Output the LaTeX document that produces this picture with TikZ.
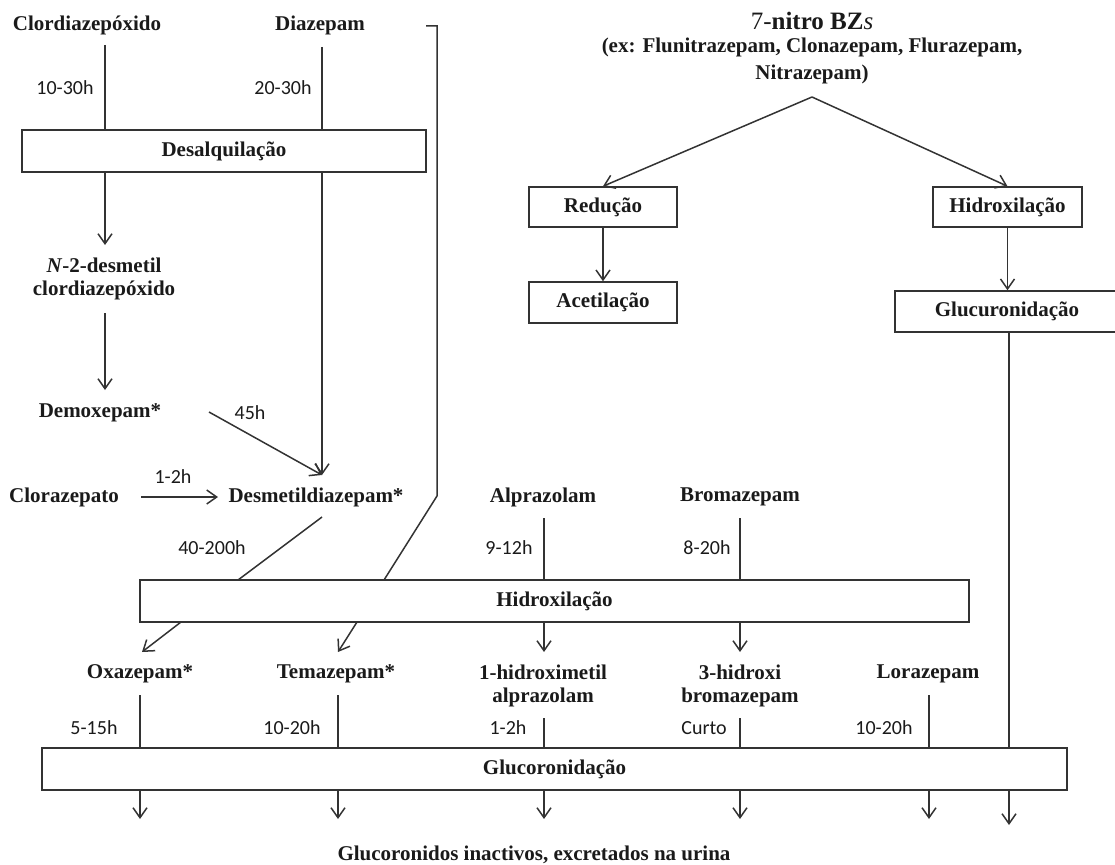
\documentclass[tikz,border=0pt]{standalone}
\usepackage{fontspec}
\setmainfont{Liberation Serif}
\newfontfamily\labfont{Carlito}
\usetikzlibrary{arrows.meta}
\definecolor{linec}{HTML}{333333}
\definecolor{txtc}{HTML}{1A1A1A}
\begin{document}
\begin{tikzpicture}[x=1pt,y=-1pt,
  every node/.style={inner sep=0pt, text=txtc, font=\fontsize{21}{23}\selectfont\bfseries},
  lbl/.style={font=\fontsize{20}{23}\selectfont\labfont},
  ln/.style={draw=linec, line width=1.5pt},
  arr/.style={ln, -{Straight Barb[length=10pt,width=14pt]}},
  box/.style={draw=linec, line width=1.5pt, fill=white}]
\useasboundingbox (0,0) rectangle (1115,864);

% boxes
\node[box, minimum width=404pt, minimum height=42pt] (desal) at (224,151) {Desalquilação};
\node[box, minimum width=148pt, minimum height=40pt] (red) at (603,207) {Redução};
\node[box, minimum width=148pt, minimum height=41pt] (acet) at (603,302.5) {Acetilação};
\node[box, minimum width=149pt, minimum height=40pt] (hidA) at (1007.5,207) {Hidroxilação};
\node[box, minimum width=230pt, minimum height=41pt, anchor=west] (glucA) at (894,311.5) {};
\node (glucAt) at (1007,311.5) {Glucuronidação};
\node[box, minimum width=829pt, minimum height=42pt] (hidB) at (554.5,601) {Hidroxilação};
\node[box, minimum width=1025pt, minimum height=42pt] (glucB) at (554.5,769) {Glucoronidação};

% compound names
\node (clor) at (87,25) {Clordiazepóxido};
\node (diaz) at (320,25) {Diazepam};
\node[font=\fontsize{25}{28}\selectfont] (nbz) at (812,21) {7-\textbf{nitro BZ}\textit{s}};
\node (ex) at (812,47) {(ex: Flunitrazepam, Clonazepam, Flurazepam,};
\node (nitra) at (812,74) {Nitrazepam)};
\node[align=center] (ndes) at (104,278.5) {\textit{N}-2-desmetil\\clordiazepóxido};
\node (demox) at (100,413) {Demoxepam*};
\node (cloraz) at (64,497) {Clorazepato};
\node (desm) at (316,497) {Desmetildiazepam*};
\node (alpr) at (543,497) {Alprazolam};
\node (brom) at (740,497) {Bromazepam};
\node (oxa) at (140,674) {Oxazepam*};
\node (tema) at (336,674) {Temazepam*};
\node[align=center] (hmet) at (543,685.5) {1-hidroximetil\\alprazolam};
\node[align=center] (hbro) at (740,685.5) {3-hidroxi\\bromazepam};
\node (lora) at (928,674) {Lorazepam};
\node (final) at (534,855) {Glucoronidos inactivos, excretados na urina};

% half-life labels
\node[lbl] (l1) at (65,88) {10-30h};
\node[lbl] (l2) at (283,88) {20-30h};
\node[lbl] (l3) at (250,413) {45h};
\node[lbl] (l4) at (173,477) {1-2h};
\node[lbl] (l5) at (212,548) {40-200h};
\node[lbl] (l6) at (509,548) {9-12h};
\node[lbl] (l7) at (707,548) {8-20h};
\node[lbl] (l8) at (94,728) {5-15h};
\node[lbl] (l9) at (292,728) {10-20h};
\node[lbl] (l10) at (508,728) {1-2h};
\node[lbl] (l11) at (704,728) {Curto};
\node[lbl] (l12) at (884,728) {10-20h};

% coordinates
\coordinate (c1) at (105,45);
\coordinate (c2) at (322,47);
\coordinate (c3) at (105,245);
\coordinate (c4s) at (105,313);
\coordinate (c4) at (105,390);
\coordinate (dz) at (322,475);
\coordinate (dm) at (209,412);
\coordinate (cz1) at (141,497);
\coordinate (cz2) at (218,497);
\coordinate (ds1) at (322,517);
\coordinate (ds2) at (238,580);
\coordinate (ds3) at (181,622);
\coordinate (ds4) at (142,652);
\coordinate (b0) at (426,26);
\coordinate (b1) at (437,26);
\coordinate (b2) at (437,496);
\coordinate (b3) at (384,580);
\coordinate (b4) at (357,622);
\coordinate (b5) at (338,652);
\coordinate (al1) at (544,518);
\coordinate (al2) at (544,652);
\coordinate (br1) at (740,518);
\coordinate (br2) at (740,652);
\coordinate (apex) at (812,97);
\coordinate (lx) at (1009,333);
\coordinate (ox1) at (140,695);
\coordinate (te1) at (338,695);
\coordinate (hm1) at (544,718);
\coordinate (hb1) at (740,718);
\coordinate (lo1) at (929,695);

% left chain
\draw[ln] (c1) -- (c1 |- desal.north);
\draw[ln] (c2) -- (c2 |- desal.north);
\draw[arr] (c1 |- desal.south) -- (c3);
\draw[arr] (c4s) -- (c4);
\draw[arr] (c2 |- desal.south) -- (dz);
\draw[arr] (dm) -- (dz);
\draw[arr] (cz1) -- (cz2);
\draw[ln] (ds1) -- (ds2);
\draw[arr] (ds3) -- (ds4);
\draw[ln] (b0) -- (b1) -- (b2) -- (b3);
\draw[arr] (b4) -- (b5);
\draw[ln] (al1) -- (al1 |- hidB.north);
\draw[arr] (al1 |- hidB.south) -- (al2);
\draw[ln] (br1) -- (br1 |- hidB.north);
\draw[arr] (br1 |- hidB.south) -- (br2);

% 7-nitro branch
\draw[arr] (apex) -- (red.north);
\draw[arr] (apex) -- (hidA.north);
\draw[arr] (red.south) -- (acet.north);
\draw[arr] (hidA.south) -- (hidA.south |- glucA.north);
\draw[ln] (lx) -- (lx |- glucB.north);

% into glucuronidation
\draw[ln] (ox1) -- (ox1 |- glucB.north);
\draw[ln] (te1) -- (te1 |- glucB.north);
\draw[ln] (hm1) -- (hm1 |- glucB.north);
\draw[ln] (hb1) -- (hb1 |- glucB.north);
\draw[ln] (lo1) -- (lo1 |- glucB.north);

% out of glucuronidation
\foreach \xx in {140,338,544,740,929}{
  \draw[arr] (\xx,790) -- (\xx,819);
}
\draw[arr] (lx |- glucB.south) -- (1009,825);
\end{tikzpicture}
\end{document}
